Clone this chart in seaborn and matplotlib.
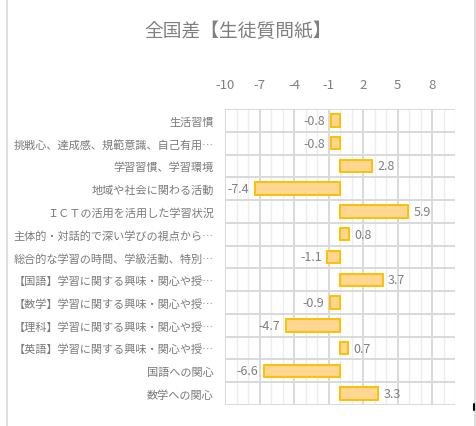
import matplotlib
matplotlib.use("Agg")
import matplotlib.pyplot as plt
from matplotlib.lines import Line2D
import seaborn as sns
import pandas as pd
import numpy as np

# chart data
categories = [
    "生活習慣",
    "挑戦心、達成感、規範意識、自己有用…",
    "学習習慣、学習環境",
    "地域や社会に関わる活動",
    "ＩＣＴの活用を活用した学習状況",
    "主体的・対話的で深い学びの視点から…",
    "総合的な学習の時間、学級活動、特別…",
    "【国語】学習に関する興味・関心や授…",
    "【数学】学習に関する興味・関心や授…",
    "【理科】学習に関する興味・関心や授…",
    "【英語】学習に関する興味・関心や授…",
    "国語への関心",
    "数学への関心",
]
values = [-0.8, -0.8, 2.8, -7.4, 5.9, 0.8, -1.1, 3.7, -0.9, -4.7, 0.7, -6.6, 3.3]
x_ticks = [-10, -7, -4, -1, 2, 5, 8]
title = "全国差【生徒質問紙】"

df = pd.DataFrame({"item": categories, "diff": values})

sns.set_style("white")
plt.rcParams['font.family'] = ['Noto Sans CJK JP', 'DejaVu Sans']
plt.rcParams['axes.unicode_minus'] = False

fig = plt.figure(figsize=(4.77, 4.27), dpi=100)
ax = fig.add_axes([0.4717, 0.0492, 0.4822, 0.6932])

sns.barplot(data=df, x="diff", y="item", orient="h", color="#FFD792",
            saturation=1, edgecolor="#FFC000", linewidth=1.4, width=0.55, ax=ax)

# grid: light minor every 1, darker major every 3, row separators
ax.set_xlim(-10, 10)
ax.set_xticks(x_ticks)
ax.set_xticks(np.arange(-10, 11, 1), minor=True)
ax.set_yticks(np.arange(-0.5, len(categories), 1), minor=True)
ax.set_ylim(len(categories) - 0.5, -0.5)
ax.grid(False)
ax.grid(axis="x", which="minor", color="#EDEDED", linewidth=1.0, zorder=0)
ax.grid(axis="x", which="major", color="#D9D9D9", linewidth=1.4, zorder=0)
ax.grid(axis="y", which="minor", color="#D9D9D9", linewidth=1.4, zorder=0)
ax.set_axisbelow(True)
for s in ax.spines.values():
    s.set_visible(False)

ax.xaxis.tick_top()
ax.tick_params(axis="x", which="both", length=0, pad=13, labelsize=9.5, labelcolor="#7F7F7F")
ax.tick_params(axis="y", which="both", length=0, pad=8, labelsize=8, labelcolor="#7A7A7A")
ax.set_xlabel("")
ax.set_ylabel("")

# value labels
for i, v in enumerate(values):
    ha = "left" if v >= 0 else "right"
    off = 4 if v >= 0 else -4
    ax.annotate(f"{v}", (v, i), xytext=(off, 0), textcoords="offset points",
                ha=ha, va="center", fontsize=9, color="#7F7F7F")

fig.suptitle(title, x=0.5, y=0.95, fontsize=13.5, color="#7F7F7F")

# outer chart frame
fig.add_artist(Line2D([7 / 477, 7 / 477], [0, 1], color="#D9D9D9", linewidth=1.2))
fig.add_artist(Line2D([475 / 477, 475 / 477], [0, 1], color="#D9D9D9", linewidth=1.2))
fig.add_artist(Line2D([474 / 477, 474 / 477], [16 / 427, 22 / 427], color="black", linewidth=1.5))

fig.savefig("out.png", dpi=100)
